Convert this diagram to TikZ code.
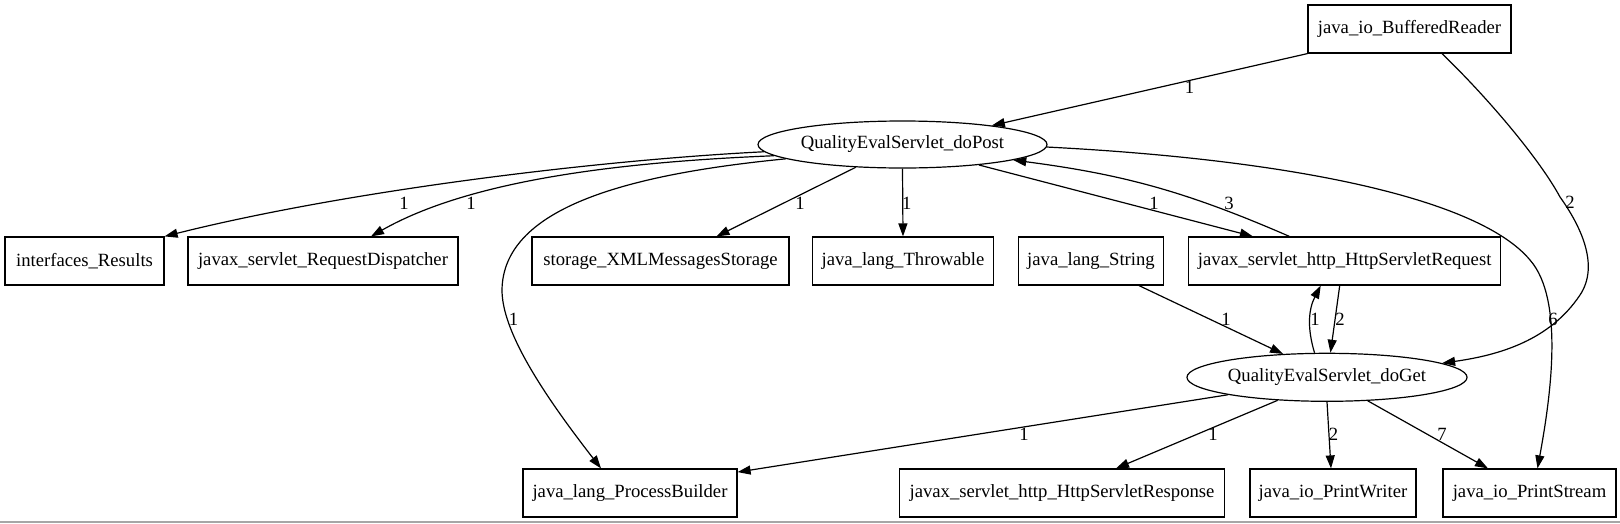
\documentclass[tikz,border=0pt]{standalone}
\usepackage{fontspec}
\setmainfont{Liberation Serif}
\usetikzlibrary{shapes.geometric,arrows.meta}
\begin{document}
\begin{tikzpicture}[x=1pt,y=-1pt,
  every node/.style={font=\fontsize{18.67pt}{22pt}\selectfont},
  box/.style={draw, line width=1.2pt, rectangle, minimum height=48pt, inner sep=0pt},
  oval/.style={draw, line width=1.2pt, ellipse, minimum height=48pt, inner sep=0pt},
  edge/.style={line width=1.2pt, -{Triangle[length=13pt,width=9pt]}},
  lbl/.style={inner sep=0pt}]
\useasboundingbox (0,0) rectangle (1620,523);
% nodes
\node[box, minimum width=203pt] (br) at (1409.5,29) {java\_io\_BufferedReader};
\node[oval, minimum width=289pt, minimum height=47pt] (dp) at (902.5,144.5) {QualityEvalServlet\_doPost};
\node[box, minimum width=159pt] (ir) at (84.5,261) {interfaces\_Results};
\node[box, minimum width=270pt] (rd) at (323,261) {javax\_servlet\_RequestDispatcher};
\node[box, minimum width=257pt] (xs) at (660.5,261) {storage\_XMLMessagesStorage};
\node[box, minimum width=181pt] (th) at (903,261) {java\_lang\_Throwable};
\node[box, minimum width=145pt] (st) at (1091,261) {java\_lang\_String};
\node[box, minimum width=312pt] (rq) at (1344.7,261) {javax\_servlet\_http\_HttpServletRequest};
\node[oval, minimum width=280pt] (dg) at (1327,377.3) {QualityEvalServlet\_doGet};
\node[box, minimum width=214pt] (pb) at (630,493) {java\_lang\_ProcessBuilder};
\node[box, minimum width=325pt] (rs) at (1062,493) {javax\_servlet\_http\_HttpServletResponse};
\node[box, minimum width=166pt] (pw) at (1333,493) {java\_io\_PrintWriter};
\node[box, minimum width=173pt] (ps) at (1529.5,493) {java\_io\_PrintStream};
% edges
\draw[edge] (br.south west) -- (dp.12);
\draw[edge] ([xshift=32.5pt]br.south) .. controls (1490,100) and (1540,160) .. (1560,197) .. controls (1580,225) and (1600,265) .. (1580,295) .. controls (1550,340) and (1500,355) .. (dg.7);
\draw[edge] (dp.183) .. controls (600,160) and (350,190) .. (ir.north east);
\draw[edge] (dp.185) .. controls (620,162) and (470,180) .. ([xshift=48pt]rd.north);
\draw[edge] (dp.187) .. controls (620,175) and (503,210) .. (502,290) .. controls (502,330) and (540,390) .. ([xshift=-29pt]pb.north);
\draw[edge] (dp.206) -- ([xshift=56pt]xs.north);
\draw[edge] (dp.south) -- (th.north);
\draw[edge] (dp.-15) -- (rq.165);
\draw[edge] (rq.156) to[bend right=8] (dp.-8);
\draw[edge] (dp.-1.5) .. controls (1300,160) and (1480,200) .. (1530,260) .. controls (1565,300) and (1550,400) .. ([xshift=8pt]ps.north);
\draw[edge] ([xshift=48pt]st.south) -- (dg.152);
\draw[edge] (dg.117) to[bend left=22] ([xshift=-24pt]rq.south);
\draw[edge] ([xshift=-5pt]rq.south) -- (dg.82);
\draw[edge] (dg.190) -- (pb.11);
\draw[edge] (dg.205) -- ([xshift=54pt]rs.north);
\draw[edge] (dg.south) -- ([xshift=-2pt]pw.north);
\draw[edge] (dg.-30) -- ([xshift=-41.5pt]ps.north);
% labels
\node[lbl] (l1) at (1189.6,87) {1};
\node[lbl] (l2) at (1570,202) {2};
\node[lbl] (l3) at (404,203) {1};
\node[lbl] (l4) at (471,203) {1};
\node[lbl] (l5) at (513.6,319) {1};
\node[lbl] (l6) at (800,203) {1};
\node[lbl] (l7) at (906.7,203) {1};
\node[lbl] (l8) at (1154,203) {1};
\node[lbl] (l9) at (1229,203) {3};
\node[lbl] (l10) at (1553,319) {6};
\node[lbl] (l11) at (1226,319) {1};
\node[lbl] (l12) at (1315,319) {1};
\node[lbl] (l13) at (1340,319) {2};
\node[lbl] (l14) at (1024,434) {1};
\node[lbl] (l15) at (1213,434) {1};
\node[lbl] (l16) at (1333.5,434) {2};
\node[lbl] (l17) at (1442,434) {7};
% bottom rule
\draw[gray!70, line width=2pt] (0,521.5) -- (1620,521.5);
\end{tikzpicture}
\end{document}
